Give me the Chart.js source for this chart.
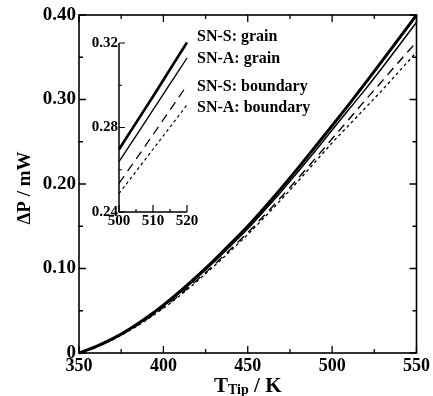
<!DOCTYPE html>
<html><head><meta charset="utf-8">
<script src="https://cdn.jsdelivr.net/npm/chart.js@4"></script>
<style>html,body{margin:0;padding:0;background:#fff;overflow:hidden}
#wrap{position:relative;width:433px;height:396px;background:#fff}
canvas{position:absolute;left:0;top:0}
</style></head><body>
<div id="wrap"><canvas id="main" width="433" height="396"></canvas><canvas id="inset" width="433" height="396"></canvas></div>
<script>
// ---- data ----
const temps = [350,360,370,380,390,400,410,420,430,440,450,460,470,480,490,500,510,520,530,540,550];
const snsGrain    = [0,0.0075,0.0170,0.0285,0.0418,0.0567,0.0731,0.0909,0.1098,0.1297,0.150,0.1722,0.1954,0.2194,0.2440,0.269,0.2943,0.3202,0.3465,0.3732,0.400];
const snaGrain    = [0,0.0074,0.0167,0.0280,0.0410,0.0556,0.0716,0.0891,0.1076,0.1271,0.147,0.1688,0.1915,0.2150,0.2391,0.2638,0.2884,0.3129,0.3385,0.3648,0.3915];
const snsBoundary = [0,0.0072,0.0162,0.0271,0.0397,0.0539,0.0694,0.0864,0.1043,0.1232,0.1425,0.1632,0.1849,0.2073,0.2301,0.2535,0.2767,0.300,0.3226,0.3456,0.368];
const snaBoundary = [0,0.0071,0.0159,0.0266,0.0391,0.0530,0.0683,0.0850,0.1027,0.1213,0.1403,0.1607,0.1819,0.2038,0.2262,0.2487,0.2697,0.2907,0.3119,0.3340,0.356];

const insetTemps = [500,505,510,515,520];
const insetSnsGrain    = [0.2696,0.2822,0.2947,0.3075,0.3203];
const insetSnaGrain    = [0.2638,0.2760,0.2883,0.3006,0.3129];
const insetSnsBoundary = [0.2535,0.2650,0.2766,0.2883,0.3000];
const insetSnaBoundary = [0.2487,0.2592,0.2697,0.2802,0.2907];

const seriesNames = ['SN-S: grain','SN-A: grain','SN-S: boundary','SN-A: boundary'];
const xMajor = [350,400,450,500,550], xMinor = [375,425,475,525];
const yMajor = [0,0.1,0.2,0.3,0.4], yMinor = [0.05,0.15,0.25,0.35];
const ixMajor = [500,510,520], ixMinor = [505,515];
const iyMajor = [0.24,0.28,0.32], iyMinor = [0.26,0.30];

const FONT = '"Liberation Serif","Times New Roman",serif';
const styles = [
  {w:3, dash:[]},
  {w:1.5, dash:[]},
  {w:1.4, dash:[9,6]},
  {w:1.3, dash:[3,3]}
];
function pts(xs, ys){ return xs.map((x,i)=>({x:x,y:ys[i]})); }
function mkSets(xs, arrs, scaleW){
  return arrs.map((a,i)=>({label:seriesNames[i], data:pts(xs,a), borderColor:'#000', backgroundColor:'#000',
    borderWidth:styles[i].w*scaleW, borderDash:styles[i].dash, pointRadius:0, fill:false,
    cubicInterpolationMode:'monotone', clip:4}));
}

const mainPlugin = {
  id:'mainDeco',
  afterDraw(chart){
    const c = chart.ctx, a = chart.chartArea, sx = chart.scales.x, sy = chart.scales.y;
    c.save();
    c.strokeStyle='#000'; c.lineWidth=1.6; c.setLineDash([]);
    c.strokeRect(a.left, a.top, a.right-a.left, a.bottom-a.top);
    c.lineWidth=1.3;
    c.beginPath();
    xMajor.forEach(v=>{const p=sx.getPixelForValue(v); c.moveTo(p,a.bottom); c.lineTo(p,a.bottom-7); c.moveTo(p,a.top); c.lineTo(p,a.top+7);});
    xMinor.forEach(v=>{const p=sx.getPixelForValue(v); c.moveTo(p,a.bottom); c.lineTo(p,a.bottom-4); c.moveTo(p,a.top); c.lineTo(p,a.top+4);});
    yMajor.forEach(v=>{const p=sy.getPixelForValue(v); c.moveTo(a.left,p); c.lineTo(a.left+7,p); c.moveTo(a.right,p); c.lineTo(a.right-7,p);});
    yMinor.forEach(v=>{const p=sy.getPixelForValue(v); c.moveTo(a.left,p); c.lineTo(a.left+4,p); c.moveTo(a.right,p); c.lineTo(a.right-4,p);});
    c.stroke();
    // axis titles
    c.fillStyle='#000';
    c.textBaseline='alphabetic';
    const big = 'bold 21px '+FONT, sub = 'bold 14px '+FONT;
    c.font=big; const wT=c.measureText('T').width, wK=c.measureText(' / K').width;
    c.font=sub; const wS=c.measureText('Tip').width;
    let x0 = (a.left+a.right)/2 - (wT+wS+wK)/2, base = 392;
    c.font=big; c.textAlign='left'; c.fillText('T', x0, base);
    c.font=sub; c.fillText('Tip', x0+wT, base+2);
    c.font=big; c.fillText(' / K', x0+wT+wS, base);
    c.translate(30, 188); c.rotate(-Math.PI/2);
    c.font='bold 19px '+FONT; c.textAlign='center';
    c.fillText('\u0394P / mW', 0, 0);
    c.restore();
  }
};

new Chart(document.getElementById('main'), {
  type:'line',
  data:{datasets: mkSets(temps,[snsGrain,snaGrain,snsBoundary,snaBoundary],1)},
  options:{responsive:false, animation:false, events:[],
    layout:{padding:{left:0,top:15,right:14,bottom:0}},
    plugins:{legend:{display:false}, tooltip:{enabled:false}},
    scales:{
      x:{type:'linear', min:350, max:550, afterFit:s=>{s.height=43;},
        grid:{display:false, drawTicks:false}, border:{display:false},
        ticks:{stepSize:50, color:'#000', padding:3, maxRotation:0, font:{family:FONT,size:18,weight:'bold'}}},
      y:{type:'linear', min:0, max:0.4, afterFit:s=>{s.width=79;},
        grid:{display:false, drawTicks:false}, border:{display:false},
        ticks:{stepSize:0.1, color:'#000', padding:3, font:{family:FONT,size:19,weight:'bold'},
          callback:v=> Math.abs(v)<1e-9 ? '0' : Number(v).toFixed(2)}}
    }
  },
  plugins:[mainPlugin]
});

const insetPlugin = {
  id:'insetDeco',
  afterDraw(chart){
    const c = chart.ctx, a = chart.chartArea, sx = chart.scales.x, sy = chart.scales.y;
    c.save();
    c.strokeStyle='#000'; c.lineWidth=1.5; c.setLineDash([]);
    c.beginPath();
    c.moveTo(a.left, a.top); c.lineTo(a.left, a.bottom); c.lineTo(a.right, a.bottom);
    c.stroke();
    c.lineWidth=1.2;
    c.beginPath();
    ixMajor.forEach(v=>{const p=sx.getPixelForValue(v); c.moveTo(p,a.bottom); c.lineTo(p,a.bottom-7);});
    ixMinor.forEach(v=>{const p=sx.getPixelForValue(v); c.moveTo(p,a.bottom); c.lineTo(p,a.bottom-3);});
    iyMajor.forEach(v=>{const p=sy.getPixelForValue(v); c.moveTo(a.left,p); c.lineTo(a.left+6,p);});
    iyMinor.forEach(v=>{const p=sy.getPixelForValue(v); c.moveTo(a.left,p); c.lineTo(a.left+3,p);});
    c.stroke();
    // legend text
    c.fillStyle='#000'; c.font='bold 16px '+FONT; c.textAlign='left'; c.textBaseline='alphabetic';
    const bases=[41,63,91,112];
    seriesNames.forEach((n,i)=>c.fillText(n, 197, bases[i]));
    c.restore();
  }
};

new Chart(document.getElementById('inset'), {
  type:'line',
  data:{datasets: mkSets(insetTemps,[insetSnsGrain,insetSnaGrain,insetSnsBoundary,insetSnaBoundary],0.9)},
  options:{responsive:false, animation:false, events:[],
    layout:{padding:{left:0,top:43,right:246,bottom:164}},
    plugins:{legend:{display:false}, tooltip:{enabled:false}},
    scales:{
      x:{type:'linear', min:500, max:520, afterFit:s=>{s.height=20;},
        grid:{display:false, drawTicks:false}, border:{display:false},
        ticks:{stepSize:10, color:'#000', padding:0, maxRotation:0, font:{family:FONT,size:15,weight:'bold'}}},
      y:{type:'linear', min:0.24, max:0.32, afterFit:s=>{s.width=119;},
        grid:{display:false, drawTicks:false}, border:{display:false},
        ticks:{stepSize:0.04, color:'#000', padding:1, font:{family:FONT,size:15,weight:'bold'},
          callback:v=> Number(v).toFixed(2)}}
    }
  },
  plugins:[insetPlugin]
});
</script>
</body></html>
